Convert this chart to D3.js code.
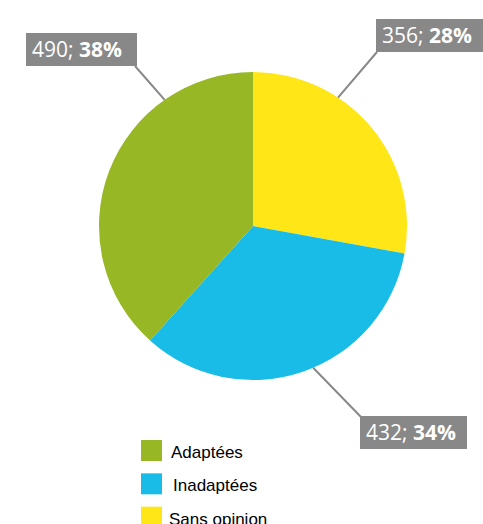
<!DOCTYPE html>
<html>
<head>
<meta charset="utf-8">
<script src="https://cdn.jsdelivr.net/npm/d3@7/dist/d3.min.js"></script>
<style>
  html, body { margin: 0; padding: 0; background: #fff; }
  svg { display: block; }
</style>
</head>
<body>
<svg id="chart" width="483" height="524"></svg>
<script>
// Survey answers
const categories = ["Sans opinion", "Inadaptées", "Adaptées"];
const counts = [356, 432, 490];
const percents = [28, 34, 38];
const legendOrder = ["Adaptées", "Inadaptées", "Sans opinion"];

const colors = {
  "Adaptées": "#97b724",
  "Inadaptées": "#19bce6",
  "Sans opinion": "#ffe617"
};

const W = 483, H = 524;
const cx = 253, cy = 226, R = 154;

const svg = d3.select("#chart");

const pie = d3.pie().sort(null).value(d => d.value);
const data = categories.map((c, i) => ({ name: c, value: counts[i], pct: percents[i] }));
const arcs = pie(data);
const arc = d3.arc().innerRadius(0).outerRadius(R);

const g = svg.append("g").attr("transform", `translate(${cx},${cy})`);
g.selectAll("path.slice")
  .data(arcs)
  .join("path")
  .attr("class", "slice")
  .attr("d", arc)
  .attr("fill", d => colors[d.data.name]);

// Callout placement: angle on the rim (degrees clockwise from top) and box corner
const callouts = {
  "Sans opinion": { angle: 33.5, box: [376, 19], w: 110, lineTo: [377, 52] },
  "Inadaptées":   { angle: 157,  box: [360, 416], w: 107, lineTo: [361, 417] },
  "Adaptées":     { angle: 325,  box: [26, 33],  w: 111, lineTo: [135, 66] }
};
const boxH = 33;

const labels = svg.append("g");
arcs.forEach(a => {
  const c = callouts[a.data.name];
  const t = c.angle * Math.PI / 180;
  const x0 = cx + R * Math.sin(t), y0 = cy - R * Math.cos(t);
  labels.append("line")
    .attr("x1", x0).attr("y1", y0)
    .attr("x2", c.lineTo[0]).attr("y2", c.lineTo[1])
    .attr("stroke", "#888888").attr("stroke-width", 2);
  labels.append("rect")
    .attr("x", c.box[0]).attr("y", c.box[1])
    .attr("width", c.w).attr("height", boxH)
    .attr("fill", "#888888");
  const txt = labels.append("text")
    .attr("x", c.box[0] + 6).attr("y", c.box[1] + 24)
    .attr("fill", "#ffffff")
    .style("font-family", "'Open Sans', sans-serif")
    .style("font-size", "21px");
  txt.append("tspan").text(`${a.data.value}; `);
  txt.append("tspan").attr("font-weight", "bold").text(`${a.data.pct}%`);
});

// Legend
const legend = svg.append("g");
const ly = d3.scaleBand().domain(legendOrder).range([440, 540]).paddingInner(0);
const legendTextX = { "Adaptées": 171, "Inadaptées": 173, "Sans opinion": 169 };
legendOrder.forEach(name => {
  const y = ly(name);
  legend.append("rect")
    .attr("x", 141).attr("y", y)
    .attr("width", 21).attr("height", 21)
    .attr("fill", colors[name]);
  legend.append("text")
    .attr("x", legendTextX[name])
    .attr("y", y + 18)
    .attr("fill", "#000")
    .style("font-family", "'Liberation Sans', Arial, sans-serif")
    .style("font-size", "17px")
    .text(name);
});
</script>
</body>
</html>
